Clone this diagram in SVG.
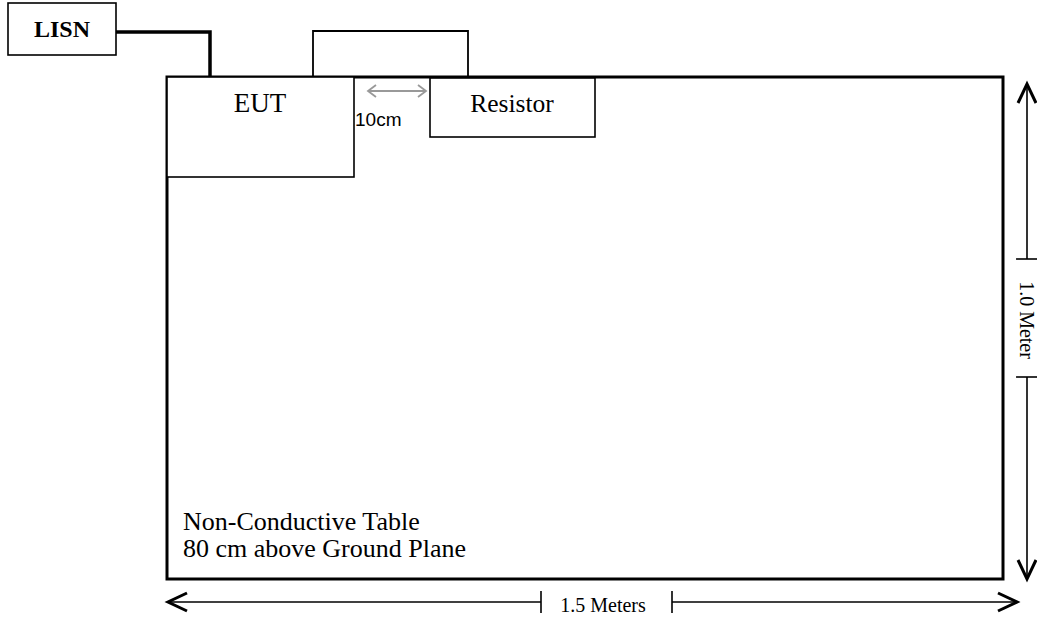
<svg xmlns="http://www.w3.org/2000/svg" width="1037" height="620" viewBox="0 0 1037 620">
<style>
.serif{font-family:"Liberation Serif","Times New Roman",serif;fill:#000}
.sans{font-family:"Liberation Sans",Arial,sans-serif;fill:#000}
.box{fill:#fff;stroke:#000;stroke-width:1.6}
.dim{stroke:#000;stroke-width:1.6;fill:none}
.head{stroke:#000;stroke-width:3;fill:none;stroke-linejoin:miter}
</style>
<defs>
<path id="ah" d="M-19,-9 L0,0 L-19,9" class="head"/>
</defs>
<rect width="1037" height="620" fill="#fff"/>
<g id="table">
<rect x="167" y="77" width="836" height="502" fill="#fff" stroke="#000" stroke-width="3"/>
<text class="serif" x="183" y="530" font-size="26">Non-Conductive Table</text>
<text class="serif" x="183" y="557" font-size="26">80 cm above Ground Plane</text>
</g>
<g id="connectors">
<path d="M116,32 H210 V77" fill="none" stroke="#000" stroke-width="3.5"/>
<path d="M313,77 V31 H468 V77" fill="none" stroke="#000" stroke-width="1.8"/>
</g>
<g id="lisn">
<rect class="box" x="8" y="3" width="108" height="52"/>
<text class="serif" x="62" y="37" font-size="24" font-weight="bold" text-anchor="middle">LISN</text>
</g>
<g id="eut">
<rect class="box" x="167" y="77" width="187" height="100"/>
<text class="serif" x="260" y="112" font-size="27" text-anchor="middle">EUT</text>
</g>
<g id="resistor">
<rect class="box" x="430" y="78" width="165" height="59"/>
<text class="serif" x="512" y="112" font-size="25.5" text-anchor="middle">Resistor</text>
</g>
<g id="gap">
<path d="M368,91 H426 M376,85 L368,91 L376,97 M418,85 L426,91 L418,97" fill="none" stroke="#999" stroke-width="1.8"/>
<text class="sans" x="355" y="126" font-size="19">10cm</text>
</g>
<g id="dim-height">
<line class="dim" x1="1027" y1="85" x2="1027" y2="259"/>
<line class="dim" x1="1016" y1="259" x2="1038" y2="259"/>
<line class="dim" x1="1027" y1="377" x2="1027" y2="578"/>
<line class="dim" x1="1016" y1="377" x2="1038" y2="377"/>
<use href="#ah" transform="translate(1027,84) rotate(-90)"/>
<use href="#ah" transform="translate(1027,579) rotate(90)"/>
<text class="serif" font-size="20" text-anchor="middle" transform="translate(1020,320) rotate(90)">1.0 Meter</text>
</g>
<g id="dim-width">
<line class="dim" x1="169" y1="602" x2="541" y2="602"/>
<line class="dim" x1="541" y1="591" x2="541" y2="613"/>
<line class="dim" x1="672" y1="602" x2="1016" y2="602"/>
<line class="dim" x1="672" y1="591" x2="672" y2="613"/>
<use href="#ah" transform="translate(168,602) rotate(180)"/>
<use href="#ah" transform="translate(1017,602)"/>
<text class="serif" x="603" y="612" font-size="20" text-anchor="middle">1.5 Meters</text>
</g>
</svg>
